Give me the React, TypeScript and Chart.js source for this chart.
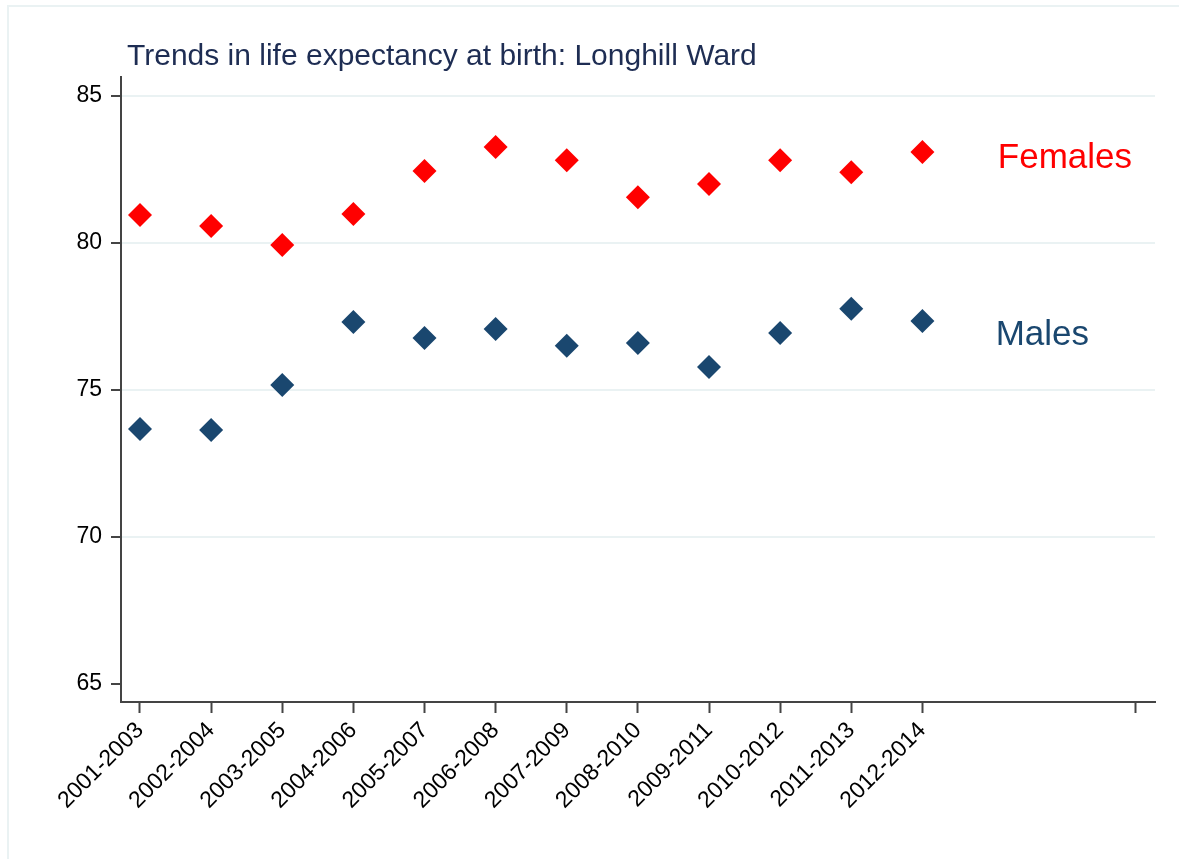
import React, { useEffect, useRef } from "react";
import { Chart, registerables } from "chart.js";

Chart.register(...registerables);

const TITLE = "Trends in life expectancy at birth: Longhill Ward";
const categories = [
  "2001-2003", "2002-2004", "2003-2005", "2004-2006", "2005-2007", "2006-2008",
  "2007-2009", "2008-2010", "2009-2011", "2010-2012", "2011-2013", "2012-2014",
];
const females = [80.95, 80.58, 79.93, 80.99, 82.45, 83.27, 82.82, 81.56, 82.01, 82.82, 82.41, 83.10];
const males = [73.67, 73.64, 75.17, 77.31, 76.77, 77.07, 76.50, 76.60, 75.78, 76.94, 77.76, 77.35];
const yTicks = [65, 70, 75, 80, 85];
const xTicks = [1, 2, 3, 4, 5, 6, 7, 8, 9, 10, 11, 12, 15];
const seriesNames = ["Females", "Males"];
const seriesLabelX = [13.06, 13.03];
const seriesLabelY = [82.54, 76.52];

const RED = "#ff0000";
const NAVY = "#1a476f";
const FONT = '"Liberation Sans", Arial, sans-serif';

export default function App() {
  const ref = useRef<HTMLCanvasElement | null>(null);
  useEffect(() => {
    if (!ref.current) return;
    const textPlugin = {
      id: "texts",
      afterDraw(chart: any) {
        const ctx = chart.ctx;
        const xs = chart.scales.x;
        const ys = chart.scales.y;
        ctx.save();
        ctx.font = `30px ${FONT}`;
        ctx.fillStyle = "#1e2d53";
        ctx.textAlign = "left";
        ctx.textBaseline = "alphabetic";
        ctx.fillText(TITLE, chart.chartArea.left + 6, 65);
        ctx.font = `35px ${FONT}`;
        const cols = [RED, NAVY];
        seriesNames.forEach((n, i) => {
          ctx.fillStyle = cols[i];
          ctx.fillText(n, xs.getPixelForValue(seriesLabelX[i]), ys.getPixelForValue(seriesLabelY[i]));
        });
        ctx.restore();
      },
    };
    const chart = new Chart(ref.current, {
      type: "scatter",
      data: {
        datasets: [
          {
            label: "Females",
            data: females.map((v, i) => ({ x: i + 1, y: v })),
            backgroundColor: RED,
            borderColor: RED,
            borderWidth: 0,
            pointStyle: "rectRot",
            pointRadius: 12,
            pointHoverRadius: 12,
          },
          {
            label: "Males",
            data: males.map((v, i) => ({ x: i + 1, y: v })),
            backgroundColor: NAVY,
            borderColor: NAVY,
            borderWidth: 0,
            pointStyle: "rectRot",
            pointRadius: 12,
            pointHoverRadius: 12,
          },
        ],
      },
      options: {
        responsive: false,
        animation: false,
        events: [],
        layout: { padding: { left: 0, right: 24, top: 77, bottom: 0 } },
        plugins: {
          legend: { display: false },
          title: { display: false },
          tooltip: { enabled: false },
        },
        scales: {
          x: {
            type: "linear",
            min: 0.733,
            max: 15.27,
            afterBuildTicks: (axis: any) => {
              axis.ticks = xTicks.map((v) => ({ value: v }));
            },
            afterFit: (axis: any) => {
              axis.height = 157;
            },
            ticks: {
              autoSkip: false,
              maxRotation: 45,
              minRotation: 45,
              padding: 4,
              color: "#000",
              font: { family: FONT, size: 23 },
              callback: (v: any) => (Number.isInteger(v) && v >= 1 && v <= categories.length ? categories[v - 1] : ""),
            },
            grid: {
              drawOnChartArea: false,
              drawTicks: true,
              tickLength: 11,
              tickColor: "#444",
              tickWidth: 2,
            },
            border: { display: true, color: "#444", width: 2 },
          },
          y: {
            type: "linear",
            min: 64.38,
            max: 85.65,
            afterBuildTicks: (axis: any) => {
              axis.ticks = yTicks.map((v) => ({ value: v }));
            },
            afterFit: (axis: any) => {
              axis.width = 121;
            },
            ticks: {
              padding: 9,
              color: "#000",
              font: { family: FONT, size: 23 },
            },
            grid: {
              color: (c: any) => (c.tick && c.tick.value === 65 ? "rgba(0,0,0,0)" : "#eaf2f3"),
              lineWidth: 2,
              drawTicks: true,
              tickLength: 10,
              tickColor: "#444",
              tickWidth: 2,
            },
            border: { display: true, color: "#444", width: 2 },
          },
        },
      },
      plugins: [textPlugin],
    } as any);
    return () => chart.destroy();
  }, []);

  return (
    <div
      style={{
        position: "fixed",
        left: 0,
        top: 0,
        width: 1179,
        height: 859,
        overflow: "hidden",
        background: "#fff",
      }}
    >
      <canvas ref={ref} width={1179} height={859} style={{ width: 1179, height: 859, display: "block" }} />
      <div
        style={{
          position: "absolute",
          left: 7,
          top: 5,
          width: 1200,
          height: 900,
          border: "2px solid #eaf2f3",
          pointerEvents: "none",
        }}
      />
    </div>
  );
}
